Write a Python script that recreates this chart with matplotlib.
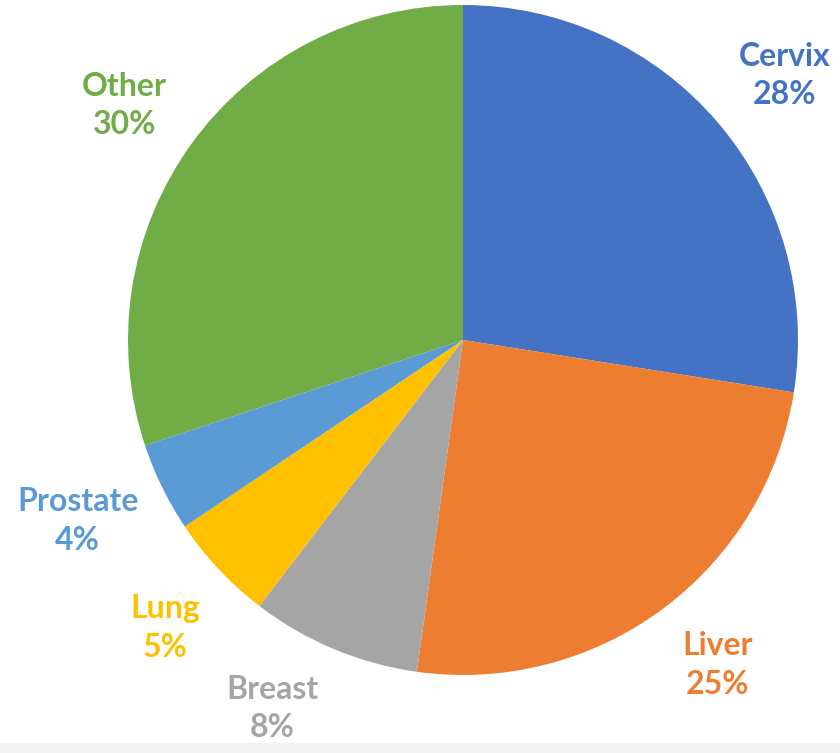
import matplotlib
matplotlib.use("Agg")
import matplotlib.pyplot as plt

labels = ["Cervix", "Liver", "Breast", "Lung", "Prostate", "Other"]
values = [27.5, 24.7, 8.2, 5.2, 4.3, 30.1]
pct_labels = ["28%", "25%", "8%", "5%", "4%", "30%"]
colors = ["#4472C4", "#ED7D31", "#A5A5A5", "#FFC000", "#5B9BD5", "#70AD47"]
# label centres in pie units (radius = 1)
label_pos = [(0.96, 0.79), (0.76, -0.97), (-0.57, -1.10), (-0.89, -0.86), (-1.15, -0.54), (-1.01, 0.70)]

fig = plt.figure(figsize=(8.4, 7.53), dpi=100)
ax = fig.add_axes([0.1524, 0.1036, 0.7976, 0.8898])
ax.pie(values, colors=colors, startangle=90, counterclock=False, radius=1,
       wedgeprops=dict(linewidth=0))
ax.set_xlim(-1, 1)
ax.set_ylim(-1, 1)
ax.set_aspect("equal")
ax.axis("off")

for lab, p, c, (x, y) in zip(labels, pct_labels, colors, label_pos):
    ax.text(x, y, f"{lab}\n{p}", color=c, ha="center", va="center",
            fontsize=23, fontweight="bold", family="Lato", linespacing=1.4,
            clip_on=False)

fig.patches.append(plt.Rectangle((0, 0), 1, 10 / 753, transform=fig.transFigure,
                                 color="#F2F2F2", zorder=-1))
fig.savefig("out.png", dpi=100)
